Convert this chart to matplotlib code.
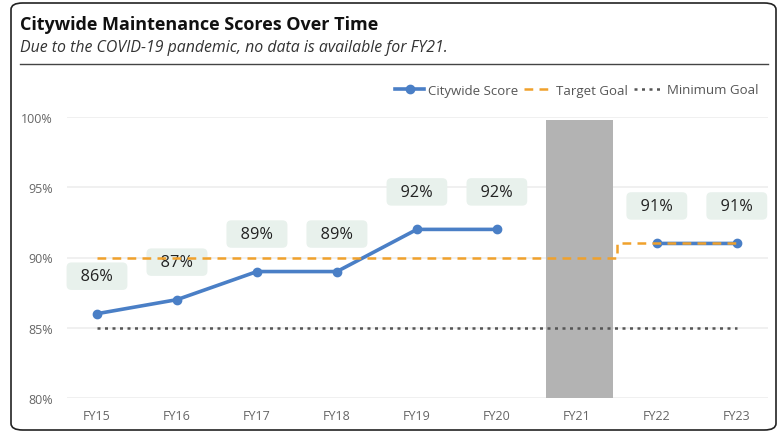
import numpy as np
import matplotlib.pyplot as plt
from matplotlib.patches import FancyBboxPatch
from matplotlib.lines import Line2D

# dados do gráfico
years = ["FY15", "FY16", "FY17", "FY18", "FY19", "FY20", "FY21", "FY22", "FY23"]
citywide = [86, 87, 89, 89, 92, 92, np.nan, 91, 91]
target = [90, 90, 90, 90, 90, 90, 90, 91, 91]
minimum = [85, 85, 85, 85, 85, 85, 85, 85, 85]
covid_year = "FY21"
covid_height = 99.8
y_ticks = [80, 85, 90, 95, 100]

plt.rcParams['font.family'] = ['Open Sans', 'DejaVu Sans']

fig = plt.figure(figsize=(7.83, 4.35), dpi=100)

# moldura do cartão
card = FancyBboxPatch((11 / 783, 4 / 435), 765 / 783, 427 / 435,
                      boxstyle="round,pad=0,rounding_size=0.015",
                      transform=fig.transFigure, facecolor="white",
                      edgecolor="#222222", linewidth=1.2, zorder=-1)
fig.patches.append(card)

fig.text(20 / 783, 1 - 25 / 435, "Citywide Maintenance Scores Over Time",
         fontsize=13, fontweight="bold", color="#111111", va="center")
fig.text(20 / 783, 1 - 48 / 435,
         "Due to the COVID-19 pandemic, no data is available for FY21.",
         fontsize=11.4, style="italic", color="#333333", va="center")
fig.add_artist(Line2D([20 / 783, 768 / 783], [1 - 65 / 435, 1 - 65 / 435],
                      transform=fig.transFigure, color="#444444", lw=1))

ax = fig.add_axes([67 / 783, 36 / 435, 701 / 783, 281 / 435])
ax.patch.set_alpha(0)
x = np.arange(len(years))

# barra cinza do FY21
ax.bar(years.index(covid_year) + 0.03, covid_height - 80, bottom=80, width=0.84,
       color="#b3b3b3", zorder=1)

ax.plot(x, minimum, linestyle=(0, (1.2, 1.8)), color="#555555", lw=1.8,
        zorder=2, label="Minimum Goal")
ax.step(x, target, where="mid", linestyle=(0, (3.5, 2.5)), color="#f0a12c",
        lw=1.8, zorder=4, label="Target Goal")
ax.plot(x, citywide, color="#4a7fc6", lw=2.6, marker="o", markersize=6,
        zorder=3, label="Citywide Score")

for xi, v in zip(x, citywide):
    if np.isnan(v):
        continue
    ax.annotate(f"  {v:.0f}%  ", (xi, v), xytext=(0, 27), textcoords="offset points",
                ha="center", va="center", fontsize=11.8, color="#222222", zorder=3.5,
                bbox=dict(boxstyle="round,pad=0.35,rounding_size=0.3",
                          fc="#e8f1ec", ec="none"))

ax.set_xlim(-0.375, 8.39)
ax.set_ylim(80, 100)
ax.set_xticks(x)
ax.set_xticklabels(years)
ax.set_yticks(y_ticks)
ax.set_yticklabels([f"{t}%" for t in y_ticks])
ax.tick_params(length=0, colors="#666666", labelsize=9)
ax.tick_params(axis="x", pad=8)
ax.tick_params(axis="y", pad=10)
ax.grid(axis="y", color="#eeeeee", lw=1.2, zorder=0)
ax.set_axisbelow(True)
for s in ax.spines.values():
    s.set_visible(False)

handles, labels = ax.get_legend_handles_labels()
order = [2, 1, 0]
fig.legend([handles[i] for i in order], [labels[i] for i in order],
           loc="center right", bbox_to_anchor=(770 / 783, 1 - 91 / 435),
           ncol=3, frameon=False, fontsize=9.5, labelcolor="#555555",
           handlelength=2.2, handletextpad=0.3, columnspacing=0.4)

plt.savefig("out.png", dpi=100)
